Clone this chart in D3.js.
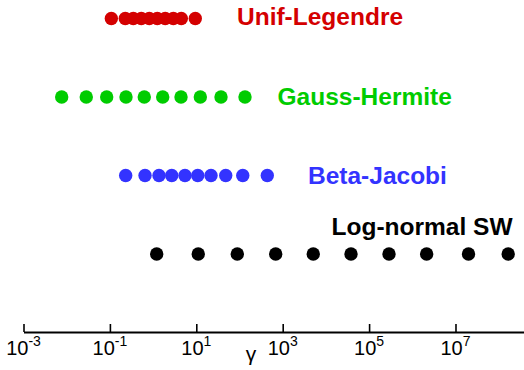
<!DOCTYPE html>
<html>
<head>
<meta charset="utf-8">
<script src="https://cdn.jsdelivr.net/npm/d3@7"></script>
<style>
  body { margin: 0; background: #fff; }
  svg { display: block; font-family: "Liberation Sans", Arial, sans-serif; }
</style>
</head>
<body>
<svg id="chart" width="524" height="370"></svg>
<script>
// series names, top to bottom
const seriesNames = ["Unif-Legendre", "Gauss-Hermite", "Beta-Jacobi", "Log-normal SW"];
const seriesColors = ["#d40000", "#00cc00", "#3333ff", "#000000"];

// gamma values of each point
const unifLegendre = [0.108, 0.227, 0.348, 0.533, 0.817, 1.25, 1.91, 2.94, 4.50, 9.48];
const gaussHermite = [0.00766, 0.0284, 0.0843, 0.236, 0.625, 1.67, 4.43, 12.4, 37.3, 134];
const betaJacobi = [0.232, 0.650, 1.37, 2.70, 5.47, 10.8, 21.9, 48.0, 119, 440];
const logNormalSW = [1.21, 11.1, 88.9, 689, 5100, 38100, 289000, 2.15e6, 2.0e7, 1.66e8];

const tickExps = [-3, -1, 1, 3, 5, 7];

const allSeries = [unifLegendre, gaussHermite, betaJacobi, logNormalSW];

const svg = d3.select("#chart");

const x = d3.scaleLog()
  .domain([1e-3, 4e8])
  .range([23.5, 524.7]);

const y = d3.scalePoint()
  .domain(seriesNames)
  .range([18.5, 254]);

// dots
seriesNames.forEach((name, i) => {
  svg.append("g")
    .selectAll("circle")
    .data(allSeries[i])
    .enter()
    .append("circle")
    .attr("cx", d => x(d))
    .attr("cy", y(name))
    .attr("r", 6.7)
    .attr("fill", seriesColors[i]);
});

// series labels (last one sits above its row)
const labelX = [237, 277.5, 308, 331.5];
const labelDy = [6.5, 8, 8, -19.5];
svg.append("g")
  .selectAll("text")
  .data(seriesNames)
  .enter()
  .append("text")
  .attr("x", (d, i) => labelX[i])
  .attr("y", (d, i) => y(d) + labelDy[i])
  .attr("font-size", 24.5)
  .attr("font-weight", "bold")
  .attr("fill", (d, i) => seriesColors[i])
  .text(d => d);

// axis
const axisY = 332;
const axis = d3.axisBottom(x)
  .tickValues(tickExps.map(e => Math.pow(10, e)))
  .tickSize(-8)
  .tickSizeOuter(0)
  .tickFormat("");

const gAxis = svg.append("g")
  .attr("transform", `translate(0,${axisY})`)
  .call(axis);
gAxis.select(".domain").attr("stroke", "#000").attr("stroke-width", 1.8);
gAxis.selectAll(".tick line").attr("stroke", "#000").attr("stroke-width", 1.6);

const tickLabels = svg.append("g")
  .selectAll("text")
  .data(tickExps)
  .enter()
  .append("text")
  .attr("x", d => x(Math.pow(10, d)))
  .attr("y", 355)
  .attr("text-anchor", "middle")
  .attr("font-size", 20)
  .attr("fill", "#000");
tickLabels.append("tspan").text("10");
tickLabels.append("tspan")
  .attr("dy", -9)
  .attr("font-size", 14)
  .text(d => d < 0 ? "-" + Math.abs(d) : String(d));

// axis title
svg.append("text")
  .attr("x", 251)
  .attr("y", 361)
  .attr("text-anchor", "middle")
  .attr("font-size", 21)
  .attr("fill", "#000")
  .text("γ");
</script>
</body>
</html>
